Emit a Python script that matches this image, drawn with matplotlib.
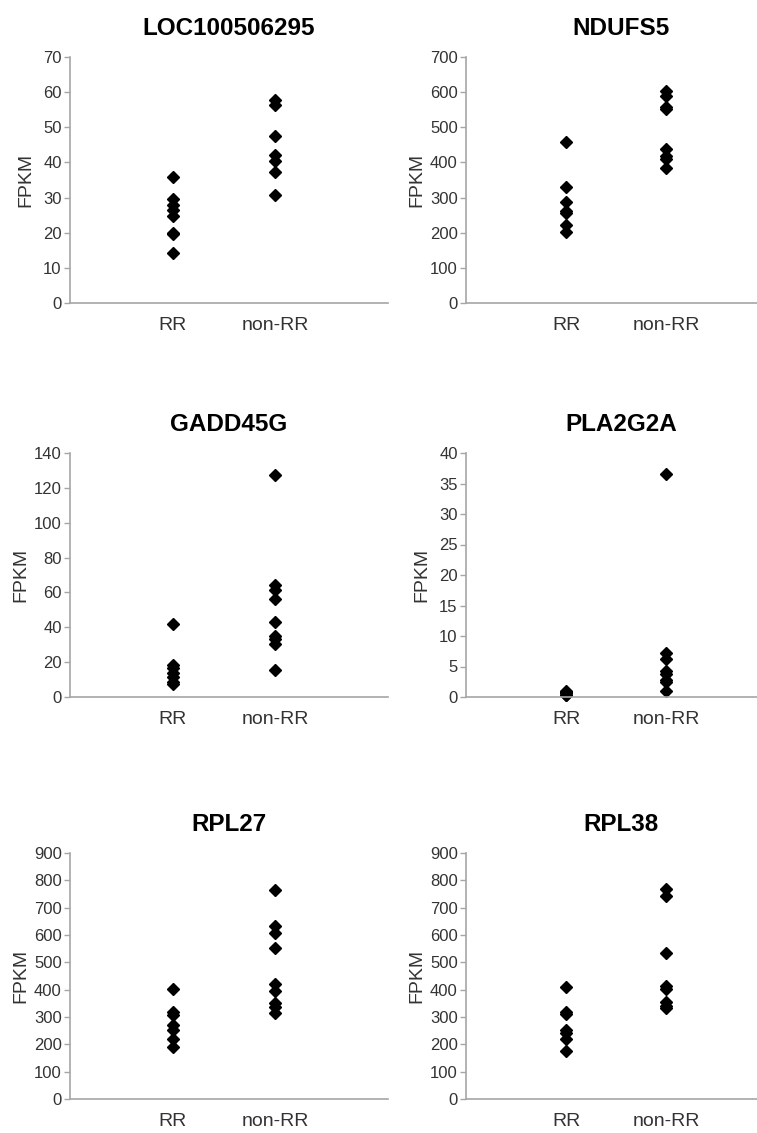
import matplotlib
matplotlib.use("Agg")
import matplotlib.pyplot as plt

plt.rcParams["font.family"] = ["Liberation Sans", "DejaVu Sans"]

groups = ["RR", "non-RR"]
genes = ["LOC100506295", "NDUFS5", "GADD45G", "PLA2G2A", "RPL27", "RPL38"]

# FPKM per sample
loc_rr = [35.8, 29.7, 28.0, 26.5, 24.7, 20.0, 19.5, 14.2]
loc_non = [57.8, 56.3, 47.6, 42.0, 40.3, 37.4, 30.8]
ndufs5_rr = [459, 331, 286, 263, 257, 222, 203]
ndufs5_non = [603, 590, 557, 551, 437, 417, 410, 383]
gadd_rr = [41.8, 18.3, 16.5, 14.0, 11.6, 8.7, 7.6]
gadd_non = [127.2, 64.0, 61.3, 56.0, 43.0, 35.0, 33.0, 30.5, 15.5]
pla_rr = [1.0, 0.8, 0.6, 0.4, 0.3]
pla_non = [36.5, 7.2, 6.3, 4.3, 3.7, 2.8, 2.4, 1.0]
rpl27_rr = [403, 317, 307, 269, 254, 218, 191]
rpl27_non = [763, 633, 606, 554, 419, 396, 350, 337, 316]
rpl38_rr = [411, 317, 311, 254, 242, 218, 176]
rpl38_non = [768, 741, 533, 413, 404, 356, 339, 332]

y_max = [70, 700, 140, 40, 900, 900]
y_step = [10, 100, 20, 5, 100, 100]

series = [
    (loc_rr, loc_non), (ndufs5_rr, ndufs5_non),
    (gadd_rr, gadd_non), (pla_rr, pla_non),
    (rpl27_rr, rpl27_non), (rpl38_rr, rpl38_non),
]

W, H = 757, 1133
# axes boxes in pixels: left/right per column, top/bottom per row
col_x = [(70, 388), (466, 776)]
row_y = [(57, 303), (453, 697), (853, 1099)]

fig = plt.figure(figsize=(W / 100, H / 100), dpi=100)
spine_c = "#a6a6a6"
text_c = "#333333"

for i, gene in enumerate(genes):
    x0, x1 = col_x[i % 2]
    yt, yb = row_y[i // 2]
    ax = fig.add_axes([x0 / W, 1 - yb / H, (x1 - x0) / W, (yb - yt) / H])
    rr, non = series[i]
    ax.plot([1] * len(rr), rr, "D", color="black", ms=6.5, clip_on=False)
    ax.plot([2] * len(non), non, "D", color="black", ms=6.5, clip_on=False)

    ax.set_xlim(0, 3.1)
    ax.set_ylim(0, y_max[i])
    ax.set_yticks(range(0, y_max[i] + 1, y_step[i]))
    ax.set_xticks([1, 2])
    ax.set_xticklabels(groups, fontsize=14, color=text_c)
    ax.tick_params(axis="x", length=0, pad=10)
    ax.tick_params(axis="y", length=4, width=1, color=spine_c,
                   labelsize=12, labelcolor=text_c, pad=2)
    for side in ["top", "right"]:
        ax.spines[side].set_visible(False)
    for side in ["left", "bottom"]:
        ax.spines[side].set_color(spine_c)
        ax.spines[side].set_linewidth(1.2)

    # three-digit tick labels need a bit more room
    offset = 41 if y_max[i] >= 100 else 36
    ax.set_ylabel("FPKM", fontsize=14, color=text_c)
    ax.yaxis.set_label_coords(-offset / (x1 - x0), 0.5)
    ax.set_title(gene, fontsize=17.5, fontweight="bold", pad=16)

fig.savefig("out.png", dpi=100)
